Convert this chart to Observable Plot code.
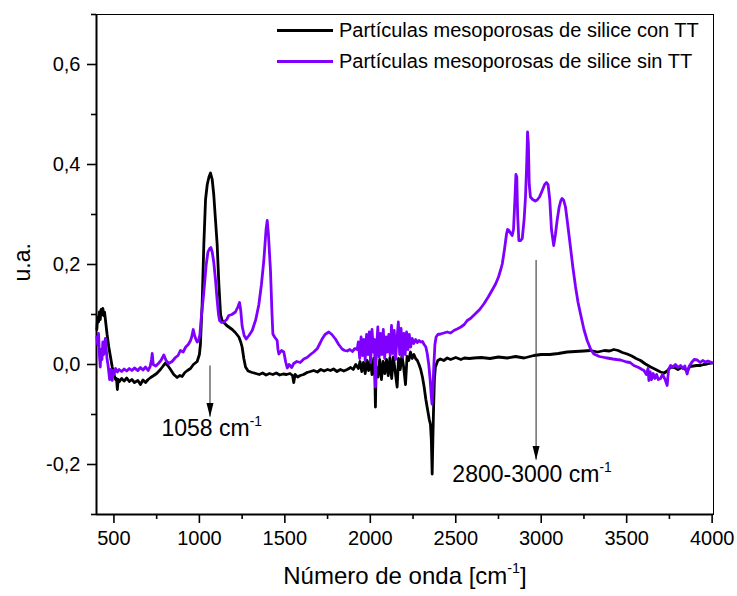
<!DOCTYPE html>
<html>
<head>
<meta charset="utf-8">
<script src="https://cdn.jsdelivr.net/npm/d3@7"></script>
<script src="https://cdn.jsdelivr.net/npm/@observablehq/plot@0.6"></script>
<style>
  html, body { margin: 0; padding: 0; background: #fff; }
  #wrap { position: relative; width: 737px; height: 596px; font-family: "Liberation Sans", Arial, sans-serif; }
  #legend { position: absolute; left: 277px; top: 14.5px; font-size: 20px; color: #000; }
  #legend .row { display: flex; align-items: center; height: 31px; white-space: nowrap; }
  #legend .sw { width: 56px; height: 3px; margin-right: 6px; }
</style>
</head>
<body>
<div id="wrap"></div>
<script>
// ---------- data ----------
const seriesNames = ["Partículas mesoporosas de silice con TT", "Partículas mesoporosas de silice sin TT"];
const seriesColors = ["#000000", "#7f00ff"];

// [wavenumber cm-1, absorbance u.a.]
const conTT = [
  [400,0.07],[405,0.095],[410,0.085],[415,0.105],[420,0.09],[425,0.11],[430,0.10],[435,0.112],[440,0.098],[445,0.105],
  [450,0.09],[455,0.075],[460,0.06],[470,0.035],[480,0.015],[490,-0.005],[500,-0.02],[510,-0.03],[515,-0.028],[520,-0.05],
  [525,-0.03],[530,-0.035],[545,-0.028],[560,-0.033],[575,-0.027],[590,-0.034],[605,-0.03],[620,-0.036],[640,-0.032],[655,-0.04],
  [670,-0.031],[685,-0.036],[700,-0.03],[715,-0.026],[733,-0.022],[750,-0.018],[772,-0.01],[790,-0.002],[802,0.003],[815,-0.002],
  [831,-0.01],[850,-0.02],[870,-0.026],[885,-0.022],[899,-0.024],[915,-0.016],[930,-0.012],[948,-0.008],[965,0.0],[987,0.006],
  [1000,0.02],[1006,0.04],[1016,0.12],[1026,0.24],[1036,0.33],[1046,0.36],[1056,0.375],[1065,0.383],[1075,0.37],[1084,0.34],
  [1094,0.29],[1104,0.24],[1114,0.16],[1124,0.1],[1133,0.088],[1143,0.084],[1160,0.078],[1176,0.074],[1192,0.07],[1210,0.064],
  [1231,0.055],[1242,0.045],[1250,0.035],[1260,0.012],[1270,-0.005],[1285,-0.013],[1309,-0.016],[1330,-0.018],[1350,-0.02],[1370,-0.017],
  [1390,-0.021],[1410,-0.018],[1430,-0.02],[1450,-0.017],[1470,-0.021],[1490,-0.019],[1510,-0.02],[1530,-0.018],[1545,-0.022],[1552,-0.036],
  [1560,-0.02],[1575,-0.025],[1590,-0.022],[1610,-0.02],[1630,-0.016],[1650,-0.014],[1669,-0.012],[1690,-0.015],[1710,-0.01],[1730,-0.013],
  [1750,-0.01],[1767,-0.012],[1785,-0.009],[1805,-0.014],[1825,-0.01],[1845,-0.013],[1865,-0.01],[1885,-0.006],[1900,-0.01],[1915,0.0],
  [1930,-0.008],[1940,0.006],[1950,-0.014],[1960,0.004],[1970,-0.018],[1980,0.008],[1990,-0.012],[2000,0.01],[2010,-0.02],[2020,0.012],
  [2026,-0.01],[2030,-0.085],[2034,-0.005],[2045,-0.025],[2055,0.01],[2065,-0.03],[2075,0.006],[2085,-0.018],[2095,0.01],[2105,-0.022],
  [2115,0.014],[2125,-0.028],[2135,0.015],[2145,-0.012],[2157,-0.045],[2165,0.012],[2175,-0.01],[2185,0.018],[2195,-0.005],[2206,-0.04],
  [2215,0.016],[2225,0.008],[2235,0.025],[2245,0.012],[2255,0.02],[2265,0.012],[2275,0.008],[2285,0.0],[2295,-0.01],[2305,-0.025],
  [2315,-0.045],[2325,-0.07],[2335,-0.09],[2345,-0.11],[2352,-0.12],[2357,-0.15],[2362,-0.219],[2366,-0.15],[2370,-0.09],[2375,-0.03],
  [2381,-0.005],[2395,0.008],[2410,0.011],[2430,0.008],[2450,0.013],[2470,0.01],[2500,0.014],[2530,0.01],[2550,0.013],[2580,0.012],
  [2606,0.013],[2650,0.014],[2700,0.012],[2750,0.015],[2801,0.013],[2850,0.016],[2900,0.013],[2957,0.018],[3000,0.02],[3050,0.02],
  [3100,0.022],[3152,0.025],[3200,0.026],[3250,0.027],[3288,0.028],[3330,0.025],[3370,0.028],[3400,0.027],[3425,0.03],[3450,0.028],
  [3475,0.024],[3503,0.021],[3530,0.017],[3555,0.012],[3581,0.008],[3610,0.001],[3640,-0.005],[3670,-0.01],[3698,-0.015],[3720,-0.017],
  [3740,-0.012],[3757,-0.005],[3780,-0.006],[3800,-0.01],[3820,-0.006],[3840,-0.009],[3854,-0.013],[3870,-0.004],[3890,-0.003],[3910,-0.002],
  [3932,-0.002],[3950,0.0],[3970,0.001],[3985,0.002],[4000,0.003]
];

const sinTT = [
  [400,0.055],[405,0.04],[410,0.062],[415,0.02],[420,-0.005],[425,0.03],[430,0.01],[435,0.045],[440,0.02],[445,0.04],
  [450,0.052],[455,0.03],[460,0.01],[465,0.0],[470,-0.015],[475,-0.03],[480,-0.01],[485,-0.025],[490,-0.032],[495,-0.012],
  [500,-0.02],[510,-0.008],[520,-0.015],[530,-0.01],[545,-0.014],[560,-0.009],[575,-0.013],[590,-0.008],[605,-0.012],[620,-0.007],
  [640,-0.012],[655,-0.006],[670,-0.011],[685,-0.005],[700,-0.012],[712,-0.004],[720,0.01],[724,0.022],[730,0.0],[745,-0.003],
  [760,0.002],[775,0.008],[792,0.019],[805,0.008],[820,0.002],[840,0.006],[860,0.014],[875,0.018],[889,0.028],[905,0.025],
  [920,0.035],[935,0.04],[948,0.048],[955,0.055],[964,0.07],[972,0.058],[980,0.05],[987,0.045],[995,0.048],[1003,0.06],
  [1010,0.09],[1026,0.145],[1040,0.2],[1050,0.225],[1060,0.232],[1067,0.234],[1075,0.225],[1084,0.205],[1094,0.17],[1104,0.128],
  [1112,0.1],[1118,0.088],[1130,0.084],[1143,0.085],[1160,0.09],[1172,0.098],[1190,0.1],[1211,0.105],[1225,0.115],[1235,0.124],
  [1242,0.108],[1250,0.077],[1262,0.058],[1274,0.051],[1290,0.058],[1309,0.068],[1330,0.09],[1348,0.12],[1363,0.16],[1377,0.208],
  [1390,0.27],[1397,0.288],[1404,0.26],[1416,0.188],[1425,0.1],[1430,0.061],[1440,0.055],[1455,0.048],[1460,0.03],[1465,0.021],
  [1480,0.028],[1494,0.025],[1505,0.005],[1514,-0.007],[1525,0.0],[1540,-0.006],[1552,0.002],[1570,0.006],[1590,0.004],[1611,0.011],
  [1630,0.014],[1650,0.02],[1669,0.025],[1690,0.032],[1705,0.042],[1718,0.051],[1735,0.06],[1757,0.065],[1775,0.06],[1796,0.051],
  [1815,0.04],[1835,0.031],[1850,0.028],[1865,0.027],[1880,0.03],[1895,0.026],[1910,0.032],[1923,0.03],
  [1930,0.045],[1938,0.012],[1946,0.055],[1954,0.018],[1962,0.05],[1970,0.008],[1978,0.06],[1986,0.02],[1994,0.065],[2002,0.004],
  [2010,0.07],[2018,0.025],[2024,0.05],[2030,-0.045],[2036,0.03],[2044,0.075],[2052,0.015],[2060,0.062],[2068,0.02],[2076,0.07],
  [2084,0.012],[2092,0.055],[2100,0.025],[2108,0.06],[2116,0.018],[2124,0.078],[2132,0.022],[2140,0.068],[2148,0.01],[2156,0.05],
  [2164,0.085],[2172,0.02],[2180,0.072],[2188,0.015],[2196,0.062],[2204,0.02],[2212,0.065],[2220,0.03],[2228,0.06],[2236,0.035],
  [2245,0.052],[2255,0.042],[2265,0.05],[2275,0.044],[2285,0.048],[2295,0.045],[2305,0.046],[2315,0.04],[2325,0.035],[2333,0.022],
  [2342,0.0],[2350,-0.03],[2356,-0.06],[2361,-0.079],[2366,-0.05],[2372,0.0],[2378,0.04],[2385,0.055],[2395,0.06],[2411,0.061],
  [2430,0.063],[2450,0.065],[2470,0.063],[2489,0.068],[2508,0.071],[2530,0.075],[2550,0.08],[2567,0.088],[2586,0.092],[2610,0.1],
  [2640,0.11],[2664,0.121],[2690,0.135],[2715,0.15],[2733,0.161],[2750,0.175],[2765,0.192],[2772,0.201],[2785,0.23],[2797,0.261],
  [2803,0.27],[2811,0.268],[2822,0.262],[2830,0.258],[2838,0.27],[2846,0.33],[2852,0.38],[2857,0.375],[2862,0.3],[2869,0.248],
  [2880,0.248],[2889,0.252],[2900,0.29],[2908,0.335],[2915,0.4],[2920,0.465],[2925,0.44],[2930,0.36],[2937,0.335],[2950,0.33],
  [2965,0.327],[2976,0.329],[2990,0.335],[3006,0.348],[3020,0.36],[3031,0.364],[3040,0.36],[3050,0.33],[3060,0.27],[3073,0.238],
  [3083,0.26],[3093,0.288],[3105,0.315],[3115,0.328],[3122,0.332],[3132,0.328],[3142,0.315],[3155,0.28],[3171,0.235],[3185,0.195],
  [3201,0.155],[3215,0.125],[3230,0.101],[3250,0.07],[3269,0.048],[3290,0.03],[3308,0.021],[3340,0.016],[3370,0.014],[3386,0.013],
  [3420,0.011],[3440,0.01],[3464,0.009],[3500,0.005],[3520,0.004],[3542,-0.002],[3570,-0.006],[3590,-0.01],[3601,-0.012],[3615,-0.02],
  [3625,-0.008],[3630,-0.032],[3638,-0.015],[3645,-0.03],[3655,-0.018],[3665,-0.028],[3675,-0.02],[3685,-0.03],[3698,-0.028],[3710,-0.02],
  [3725,-0.03],[3737,-0.042],[3745,-0.01],[3757,-0.002],[3770,-0.005],[3785,0.0],[3800,-0.006],[3815,-0.002],[3830,-0.008],[3840,-0.003],
  [3854,-0.019],[3865,-0.004],[3880,0.004],[3895,0.01],[3913,0.009],[3930,0.004],[3945,0.008],[3960,0.005],[3975,0.007],[3990,0.005],
  [4000,0.003]
];

const xTicks = [500, 1000, 1500, 2000, 2500, 3000, 3500, 4000];
const xMinorTicks = [750, 1250, 1750, 2250, 2750, 3250, 3750];
const yTicks = [-0.2, 0, 0.2, 0.4, 0.6];
const yMinorTicks = [-0.3, -0.1, 0.1, 0.3, 0.5, 0.7];
const xDomain = [398, 4008];
const yDomain = [-0.3, 0.7];

// annotation arrows: wavenumber, start value, tip value
const arrows = [
  {x: 1062, from: -0.003, to: -0.105},
  {x: 2970, from: 0.208, to: -0.191}
];
const notes = [
  {x: 778, y: -0.129, text: "1058 cm^-1"},
  {x: 2480, y: -0.221, text: "2800-3000 cm^-1"}
];
const xLabel = "Número de onda [cm^-1]";
const yLabel = "u.a.";

// ---------- chart ----------
const rows = [
  ...conTT.map(([x, y]) => ({x, y, s: seriesNames[0]})),
  ...sinTT.map(([x, y]) => ({x, y, s: seriesNames[1]}))
];

const fmtY = d => d3.format(".1f")(d).replace("−", "-").replace(".", ",");

const arrowHead = {
  draw(ctx) {
    ctx.moveTo(0, 0);
    ctx.lineTo(-3.5, -14);
    ctx.lineTo(3.5, -14);
    ctx.closePath();
  }
};

const svg = Plot.plot({
  width: 737,
  height: 596,
  marginLeft: 96,
  marginRight: 24,
  marginTop: 14,
  marginBottom: 82,
  style: {fontFamily: "'Liberation Sans', Arial, sans-serif", fontSize: "20px", color: "#000", background: "#fff", overflow: "visible"},
  x: {domain: xDomain, label: null},
  y: {domain: yDomain, label: null},
  color: {domain: seriesNames, range: seriesColors},
  marks: [
    Plot.frame({stroke: "#000", strokeWidth: 1}),
    Plot.ruleX([xDomain[0]], {stroke: "#000", strokeWidth: 2}),
    Plot.ruleY([yDomain[0]], {stroke: "#000", strokeWidth: 2}),
    Plot.axisX(xTicks, {tickSize: 9, tickPadding: 7, fontSize: 20, strokeWidth: 1.6, tickFormat: d => String(d), label: null}),
    Plot.axisX(xMinorTicks, {tickSize: 5, strokeWidth: 1.6, tickFormat: () => "", label: null}),
    Plot.axisY(yTicks, {tickSize: 9, tickPadding: 7, fontSize: 20, strokeWidth: 1.6, tickFormat: fmtY, label: null}),
    Plot.axisY(yMinorTicks, {tickSize: 5, strokeWidth: 1.6, tickFormat: () => "", label: null}),
    Plot.line(rows, {x: "x", y: "y", z: "s", stroke: "s", strokeWidth: 2.8, strokeLinejoin: "round"}),
    Plot.ruleX(arrows, {x: "x", y1: "from", y2: "to", stroke: "#222", strokeWidth: 1}),
    Plot.dot(arrows, {x: "x", y: "to", symbol: arrowHead, fill: "#000", stroke: null, r: 5}),
    Plot.text(notes, {x: "x", y: "y", text: "text", textAnchor: "start", fontSize: 23, fill: "#000"}),
    Plot.text([xLabel], {frameAnchor: "bottom", text: d => d, dy: 69, fontSize: 24, fill: "#000"}),
    Plot.text([yLabel], {frameAnchor: "left", text: d => d, rotate: -90, dx: -74, dy: 17, fontSize: 23, fill: "#000"})
  ]
});

const wrap = document.getElementById("wrap");
wrap.appendChild(svg);

// superscripts (cm^-1)
const NS = "http://www.w3.org/2000/svg";
svg.querySelectorAll("text").forEach(t => {
  const s = t.textContent;
  const i = s.indexOf("^");
  if (i < 0) return;
  const m = s.slice(i + 1).match(/^(-?\d+)(.*)$/);
  if (!m) return;
  const fs = parseFloat(getComputedStyle(t).fontSize) || 20;
  const rise = fs * 0.45;
  while (t.firstChild) t.removeChild(t.firstChild);
  t.appendChild(document.createTextNode(s.slice(0, i)));
  const sup = document.createElementNS(NS, "tspan");
  sup.setAttribute("dy", -rise);
  sup.setAttribute("font-size", (fs * 0.6).toFixed(1));
  sup.textContent = m[1];
  t.appendChild(sup);
  if (m[2]) {
    const rest = document.createElementNS(NS, "tspan");
    rest.setAttribute("dy", rise);
    rest.textContent = m[2];
    t.appendChild(rest);
  }
});

// legend (inside the plot area, top right)
const legend = document.createElement("div");
legend.id = "legend";
seriesNames.forEach((name, k) => {
  const row = document.createElement("div");
  row.className = "row";
  const sw = document.createElement("span");
  sw.className = "sw";
  sw.style.background = seriesColors[k];
  const lab = document.createElement("span");
  lab.textContent = name;
  row.appendChild(sw);
  row.appendChild(lab);
  legend.appendChild(row);
});
wrap.appendChild(legend);
</script>
</body>
</html>
